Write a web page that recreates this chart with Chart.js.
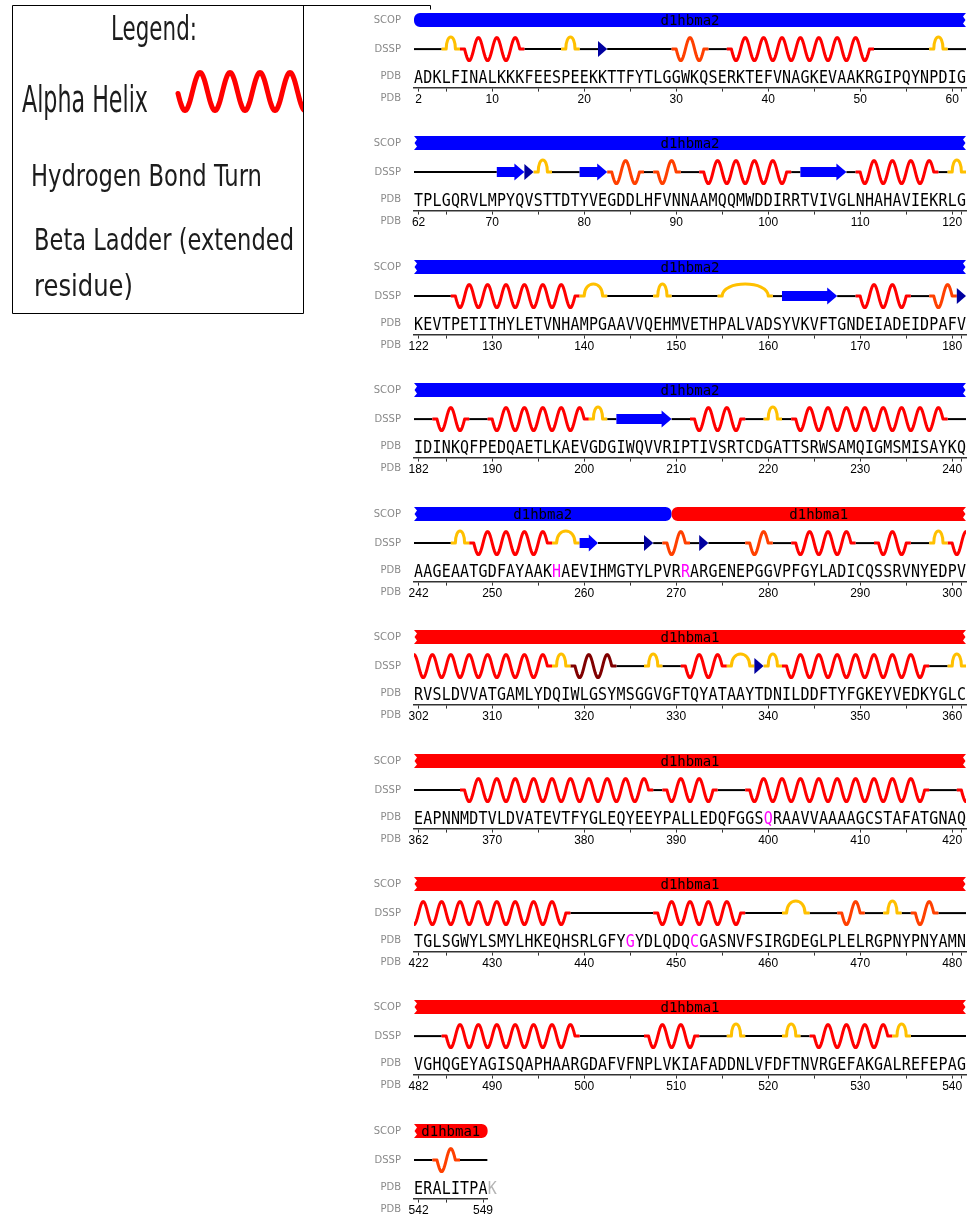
<!DOCTYPE html>
<html>
<head>
<meta charset="utf-8">
<script src="https://cdn.jsdelivr.net/npm/chart.js@4/dist/chart.umd.min.js"></script>
<style>
html, body { margin:0; padding:0; background:#fff; }
#page { position:relative; width:969px; height:1216px; overflow:hidden; background:#fff; }
#page canvas { position:absolute; left:0; }
#legend { position:absolute; left:0; top:0; z-index:5; }
#legend text { font-family:"DejaVu Sans", sans-serif; fill:#1c1c1c; }
</style>
</head>
<body>
<div id="page">
<svg id="legend" width="440" height="320" xmlns="http://www.w3.org/2000/svg">
  <defs><clipPath id="boxclip"><rect x="12" y="5" width="291" height="308"/></clipPath></defs>
  <path d="M12.5 5.5 H430.5 V9.5 M12.5 5.5 V313.5 H303.5 V5.5" fill="none" stroke="#000" stroke-width="1"/>
  <text x="111" y="40" font-size="34" textLength="86" lengthAdjust="spacingAndGlyphs">Legend:</text>
  <text x="22" y="112" font-size="38" textLength="126" lengthAdjust="spacingAndGlyphs">Alpha Helix</text>
  <text x="31" y="186" font-size="30" textLength="231" lengthAdjust="spacingAndGlyphs">Hydrogen Bond Turn</text>
  <text x="34" y="250" font-size="30" textLength="260" lengthAdjust="spacingAndGlyphs">Beta Ladder (extended</text>
  <text x="34" y="296" font-size="30" textLength="99" lengthAdjust="spacingAndGlyphs">residue)</text>
  <path id="legendHelix" clip-path="url(#boxclip)" fill="none" stroke="#ff0000" stroke-width="5" stroke-linecap="round" stroke-linejoin="round"/>
</svg>
</div>
<script>
// ================= DATA =================
const rowStarts = [2, 62, 122, 182, 242, 302, 362, 422, 482, 542];
const rowEnds   = [61, 121, 181, 241, 301, 361, 421, 481, 541, 549];
const sequenceRows = [
  "ADKLFINALKKKFEESPEEKKTTFYTLGGWKQSERKTEFVNAGKEVAAKRGIPQYNPDIG",
  "TPLGQRVLMPYQVSTTDTYVEGDDLHFVNNAAMQQMWDDIRRTVIVGLNHAHAVIEKRLG",
  "KEVTPETITHYLETVNHAMPGAAVVQEHMVETHPALVADSYVKVFTGNDEIADEIDPAFV",
  "IDINKQFPEDQAETLKAEVGDGIWQVVRIPTIVSRTCDGATTSRWSAMQIGMSMISAYKQ",
  "AAGEAATGDFAYAAKHAEVIHMGTYLPVRRARGENEPGGVPFGYLADICQSSRVNYEDPV",
  "RVSLDVVATGAMLYDQIWLGSYMSGGVGFTQYATAAYTDNILDDFTYFGKEYVEDKYGLC",
  "EAPNNMDTVLDVATEVTFYGLEQYEEYPALLEDQFGGSQRAAVVAAAAGCSTAFATGNAQ",
  "TGLSGWYLSMYLHKEQHSRLGFYGYDLQDQCGASNVFSIRGDEGLPLELRGPNYPNYAMN",
  "VGHQGEYAGISQAPHAARGDAFVFNPLVKIAFADDNLVFDFTNVRGEFAKGALREFEPAG",
  "ERALITPAK"
];
const lastResidue = 549;
const unobservedResidues = [550];
const markedResidues = [257, 271, 400, 445, 452];
const trackLabels = ["SCOP", "DSSP", "PDB", "PDB"];

// SCOP domains
const domainNames  = ["d1hbma2", "d1hbma1"];
const domainStarts = [2, 270];
const domainEnds   = [269, 549];

// DSSP secondary structure [first residue, last residue]
const alphaHelices = [[7,13],[36,51],[93,102],[110,118],[126,139],[170,175],[184,187],[190,200],
  [212,217],[223,239],[248,256],[283,289],[292,295],[300,316],[331,335],[342,357],[367,387],
  [389,394],[398,417],[421,438],[448,457],[485,499],[507,512],[525,533]];
const helices310 = [[30,33],[83,86],[88,90],[178,180],[269,271],[278,280],[468,470],[476,478],[544,546]];
const piHelices = [[319,323]];
const turns = [[5,6],[18,19],[58,59],[75,76],[120,121],[140,142],[148,149],[155,160],[201,202],
  [220,221],[246,247],[257,259],[298,299],[317,318],[327,328],[336,338],[340,341],[360,361],
  [462,464],[473,474],[516,517],[522,523],[534,535]];
const strands = [[71,73],[80,82],[104,108],[162,167],[204,209],[260,261]];
const bridges = [22, 74, 181, 267, 273, 339];

// ================= STYLE / LAYOUT =================
const domainColors = { "d1hbma2": "#0000ff", "d1hbma1": "#ff0000" };
const ssColors = { H:"#ff0000", G:"#ff4000", I:"#800000", T:"#ffc000", E:"#0000ff", B:"#0000a0", coil:"#000000" };
const LAYOUT = {
  width: 969, plotLeft: 414, resW: 9.2, rowPitch: 123.44, axisY0: 87.5, canvasH: 123,
  scopOff: -67.5, scopH: 14, dsspOff: -38.5, seqBaseOff: -5, labelX: 401,
  labelOffs: [-67.5, -38.5, -11.5, 10.5], helixAmp: 11.5, turnH: 12
};

// ================= DRAWING =================
const covered = new Set();
[alphaHelices, helices310, piHelices, turns, strands].forEach(list =>
  list.forEach(([s, e]) => { for (let v = s; v <= e; v++) covered.add(v); }));
bridges.forEach(v => covered.add(v));

function tickValues(rs, re) {
  const t = [rs];
  for (let v = rs + 1; v < re; v++) if (v % 5 === 0) t.push(v);
  t.push(re);
  return t;
}

function rowPlugin(ri) {
  return {
    id: "row" + ri,
    afterDraw(chart) {
      const ctx = chart.ctx, x = chart.scales.x;
      const ay = x.top;
      const rs = rowStarts[ri], re = rowEnds[ri];
      const px = v => x.getPixelForValue(v);
      ctx.save();
      // track labels
      ctx.fillStyle = "#8a8a8a";
      ctx.font = '10px "DejaVu Sans", sans-serif';
      ctx.textAlign = "right"; ctx.textBaseline = "middle";
      trackLabels.forEach((lab, k) => ctx.fillText(lab, LAYOUT.labelX, ay + LAYOUT.labelOffs[k]));

      // SCOP bars
      const yc = ay + LAYOUT.scopOff, h = LAYOUT.scopH, t = yc - h / 2, b = yc + h / 2, r = 6;
      domainNames.forEach((name, d) => {
        const ds = domainStarts[d], de = domainEnds[d];
        if (de < rs || ds > re) return;
        const x0 = px(Math.max(ds, rs) - 0.5), x1 = px(Math.min(de, re) + 0.5);
        const roundL = ds >= rs, roundR = de <= re;
        ctx.beginPath();
        ctx.moveTo(roundL ? x0 + r : x0, t);
        if (roundR) {
          ctx.lineTo(x1 - r, t); ctx.arcTo(x1, t, x1, t + r, r);
          ctx.lineTo(x1, b - r); ctx.arcTo(x1, b, x1 - r, b, r);
        } else {
          ctx.lineTo(x1, t); ctx.lineTo(x1 - 3, t + h * 0.25); ctx.lineTo(x1 - 0.5, t + h * 0.5);
          ctx.lineTo(x1 - 3, t + h * 0.75); ctx.lineTo(x1, b);
        }
        if (roundL) {
          ctx.lineTo(x0 + r, b); ctx.arcTo(x0, b, x0, b - r, r);
          ctx.lineTo(x0, t + r); ctx.arcTo(x0, t, x0 + r, t, r);
        } else {
          ctx.lineTo(x0, b); ctx.lineTo(x0 + 3, t + h * 0.75); ctx.lineTo(x0 + 0.5, t + h * 0.5);
          ctx.lineTo(x0 + 3, t + h * 0.25); ctx.lineTo(x0, t);
        }
        ctx.closePath();
        ctx.fillStyle = domainColors[name]; ctx.fill();
        ctx.fillStyle = "#000"; ctx.font = '14px "DejaVu Sans Mono", monospace';
        ctx.textAlign = "center"; ctx.textBaseline = "alphabetic";
        ctx.fillText(name, (x0 + x1) / 2, yc + 5);
      });

      // DSSP track
      const base = ay + LAYOUT.dsspOff;
      ctx.save();
      ctx.beginPath();
      ctx.rect(px(rs - 0.5), base - 25, px(re + 0.5) - px(rs - 0.5), 50);
      ctx.clip();
      // coil
      ctx.strokeStyle = ssColors.coil; ctx.lineWidth = 2; ctx.lineCap = "butt";
      let v = rs;
      while (v <= re) {
        if (covered.has(v)) { v++; continue; }
        let w = v;
        while (w + 1 <= re && !covered.has(w + 1)) w++;
        ctx.beginPath(); ctx.moveTo(px(v - 0.5), base); ctx.lineTo(px(w + 0.5), base); ctx.stroke();
        v = w + 1;
      }
      const inRow = (s, e) => e >= rs && s <= re;
      function helix(s, e, color) {
        if (!inRow(s, e)) return;
        ctx.beginPath();
        ctx.moveTo(px(s - 0.5), base); ctx.lineTo(px(s), base);
        const steps = Math.max(1, Math.ceil((e - s) * 24));
        for (let k = 1; k <= steps; k++) {
          const u = s + (e - s) * k / steps;
          ctx.lineTo(px(u), base + LAYOUT.helixAmp * Math.sin(Math.PI * (u - s)));
        }
        ctx.lineTo(px(e + 0.5), base);
        ctx.strokeStyle = color; ctx.lineWidth = 3; ctx.lineJoin = "round"; ctx.stroke();
      }
      function turn(s, e) {
        if (!inRow(s, e)) return;
        const xa = px(s), xb = px(e), hh = LAYOUT.turnH * 4 / 3;
        ctx.beginPath();
        ctx.moveTo(px(s - 0.5), base); ctx.lineTo(xa, base);
        ctx.bezierCurveTo(xa, base - hh, xb, base - hh, xb, base);
        ctx.lineTo(px(e + 0.5), base);
        ctx.strokeStyle = ssColors.T; ctx.lineWidth = 3; ctx.lineJoin = "round"; ctx.stroke();
      }
      function strand(s, e) {
        if (!inRow(s, e)) return;
        const x0 = px(s - 0.5), x1 = px(e + 0.5), hl = Math.min(10, (x1 - x0) * 0.5);
        ctx.beginPath();
        ctx.moveTo(x0, base - 5); ctx.lineTo(x1 - hl, base - 5); ctx.lineTo(x1 - hl, base - 8.5);
        ctx.lineTo(x1, base); ctx.lineTo(x1 - hl, base + 8.5); ctx.lineTo(x1 - hl, base + 5);
        ctx.lineTo(x0, base + 5); ctx.closePath();
        ctx.fillStyle = ssColors.E; ctx.fill();
      }
      function bridge(s) {
        if (!inRow(s, s)) return;
        const x0 = px(s - 0.5), x1 = px(s + 0.5);
        ctx.beginPath();
        ctx.moveTo(x0, base - 8); ctx.lineTo(x1, base); ctx.lineTo(x0, base + 8); ctx.closePath();
        ctx.fillStyle = ssColors.B; ctx.fill();
      }
      alphaHelices.forEach(([s, e]) => helix(s, e, ssColors.H));
      helices310.forEach(([s, e]) => helix(s, e, ssColors.G));
      piHelices.forEach(([s, e]) => helix(s, e, ssColors.I));
      turns.forEach(([s, e]) => turn(s, e));
      strands.forEach(([s, e]) => strand(s, e));
      bridges.forEach(s => bridge(s));
      ctx.restore();

      // sequence
      const seq = sequenceRows[ri];
      ctx.font = '17px "DejaVu Sans Mono", monospace';
      ctx.textAlign = "center"; ctx.textBaseline = "alphabetic";
      for (let k = 0; k < seq.length; k++) {
        const res = rs + k;
        ctx.fillStyle = markedResidues.includes(res) ? "#ff00ff" :
                        unobservedResidues.includes(res) ? "#b4b4b4" : "#000";
        ctx.save();
        ctx.translate(px(res), ay + LAYOUT.seqBaseOff);
        ctx.scale(0.88, 1);
        ctx.fillText(seq[k], 0, 0);
        ctx.restore();
      }
      ctx.restore();
    }
  };
}

const page = document.getElementById("page");
rowStarts.forEach((rs, ri) => {
  const re = rowEnds[ri];
  const cv = document.createElement("canvas");
  cv.width = LAYOUT.width; cv.height = LAYOUT.canvasH;
  cv.style.width = LAYOUT.width + "px"; cv.style.height = LAYOUT.canvasH + "px";
  page.appendChild(cv);
  const nRes = re - rs + 1;
  const padRight = LAYOUT.width - (LAYOUT.plotLeft + nRes * LAYOUT.resW);
  const chart = new Chart(cv, {
    type: "scatter",
    data: { datasets: [] },
    options: {
      responsive: false, animation: false, devicePixelRatio: 1,
      layout: { padding: { left: LAYOUT.plotLeft, right: padRight, top: 0, bottom: 0 } },
      plugins: { legend: { display: false }, tooltip: { enabled: false }, title: { display: false } },
      scales: {
        x: {
          type: "linear", position: "bottom", min: rs - 0.5, max: re + 0.5,
          afterBuildTicks: sc => { sc.ticks = tickValues(rs, re).map(val => ({ value: val })); },
          ticks: {
            autoSkip: false, maxRotation: 0, minRotation: 0, padding: 1, color: "#000",
            font: { family: '"Liberation Sans", Arial, sans-serif', size: 12 },
            callback: val => (val === rs || val % 10 === 0 || val === lastResidue) ? String(val) : ""
          },
          grid: { drawOnChartArea: false, drawTicks: true, tickLength: 4, color: "#333", lineWidth: 1 },
          border: { display: true, color: "#333", width: 1.5 }
        },
        y: { display: false, min: 0, max: 1 }
      }
    },
    plugins: [rowPlugin(ri)]
  });
  const desired = LAYOUT.axisY0 + ri * LAYOUT.rowPitch;
  cv.style.top = Math.round(desired - chart.scales.x.top) + "px";
});

// legend helix glyph
(function () {
  const pts = [];
  for (let xx = 178; xx <= 306; xx += 1) {
    pts.push(xx + "," + (91.5 - 19 * Math.sin(2 * Math.PI * (xx - 192.5) / 30)).toFixed(2));
  }
  document.getElementById("legendHelix").setAttribute("d", "M" + pts.join(" L"));
})();
</script>
</body>
</html>
